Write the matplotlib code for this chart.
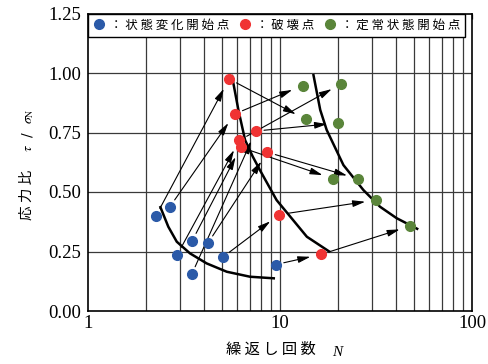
import numpy as np
import matplotlib.pyplot as plt
from matplotlib.lines import Line2D
from matplotlib.patches import FancyArrowPatch
from matplotlib.ticker import FormatStrFormatter, NullFormatter

plt.rcParams["mathtext.fontset"] = "stix"

CJK = "Noto Sans CJK JP"
SERIF = "Liberation Serif"

# one entry per specimen: onset (blue) -> failure (red) -> steady state (green)
onset_N = [2.26, 2.67, 2.92, 3.49, 3.47, 4.22, 5.03, 9.49]
onset_tau = [0.400, 0.438, 0.237, 0.295, 0.154, 0.286, 0.226, 0.195]
fail_N = [5.43, 5.81, 6.14, 6.24, 7.47, 8.59, 9.90, 16.4]
fail_tau = [0.975, 0.828, 0.717, 0.688, 0.756, 0.667, 0.405, 0.238]
steady_N = [13.6, 13.1, 20.9, 18.9, 20.1, 25.4, 31.7, 47.7]
steady_tau = [0.805, 0.947, 0.955, 0.556, 0.790, 0.556, 0.466, 0.357]

# boundary curves (hand-drawn envelopes)
onset_curve_N = [2.37, 2.62, 2.90, 3.40, 4.15, 5.28, 6.98, 9.42]
onset_curve_tau = [0.441, 0.354, 0.291, 0.242, 0.200, 0.165, 0.144, 0.137]
fail_curve_N = [5.61, 6.07, 6.58, 7.20, 7.86, 9.60, 13.8, 18.2]
fail_curve_tau = [0.992, 0.845, 0.718, 0.650, 0.592, 0.466, 0.312, 0.248]
steady_curve_N = [14.9, 16.2, 17.5, 21.4, 27.2, 33.2, 40.5, 52.5]
steady_curve_tau = [0.996, 0.845, 0.761, 0.613, 0.508, 0.438, 0.390, 0.343]

legend_labels = ["：状態変化開始点", "：破壊点", "：定常状態開始点"]
colors = ["#2b5aa8", "#f03333", "#5a853a"]

W, H = 488, 364


def spread(s):
    return " ".join(s)


fig = plt.figure(figsize=(W / 100, H / 100), dpi=100)
ax = fig.add_axes([88 / W, 1 - 311 / H, (472 - 88) / W, (311 - 13.5) / H])

ax.set_xscale("log")
ax.set_xlim(1, 100)
ax.set_ylim(0, 1.25)

# grid drawn by hand so it stays under the legend box
xgrid = [k * 10 ** d for d in (0, 1) for k in range(2, 10)] + [10]
for v in xgrid:
    ax.axvline(v, color="#3a3a3a", lw=0.9, zorder=1)
for v in [0.25, 0.5, 0.75, 1.0]:
    ax.axhline(v, color="#3a3a3a", lw=0.9, zorder=1)

for cN, ct in [(onset_curve_N, onset_curve_tau),
               (fail_curve_N, fail_curve_tau),
               (steady_curve_N, steady_curve_tau)]:
    ax.plot(cN, ct, color="black", lw=1.8, zorder=3, solid_capstyle="butt")


def arrow(x0, y0, x1, y1):
    a = FancyArrowPatch((x0, y0), (x1, y1),
                        arrowstyle="-|>,head_length=0.75,head_width=0.2",
                        mutation_scale=10, lw=0.8, color="black",
                        shrinkA=6, shrinkB=8, zorder=3)
    ax.add_patch(a)


for i in range(len(onset_N)):
    arrow(onset_N[i], onset_tau[i], fail_N[i], fail_tau[i])
    arrow(fail_N[i], fail_tau[i], steady_N[i], steady_tau[i])

for xs, ys, c in [(onset_N, onset_tau, colors[0]),
                  (fail_N, fail_tau, colors[1]),
                  (steady_N, steady_tau, colors[2])]:
    ax.plot(xs, ys, ls="none", marker="o", ms=7, mfc=c, mec=c, zorder=4)

ax.set_yticks(np.arange(0, 1.26, 0.25))
ax.yaxis.set_major_formatter(FormatStrFormatter("%.2f"))
ax.set_xticks([1, 10, 100])
ax.set_xticklabels(["1", "10", "100"])
ax.xaxis.set_minor_formatter(NullFormatter())
ax.tick_params(axis="y", length=0, pad=5, labelsize=13.5)
ax.tick_params(axis="x", which="both", bottom=False, top=True,
               direction="in", length=3.5, width=0.9, pad=3, labelsize=13.5)
for lab in ax.get_xticklabels() + ax.get_yticklabels():
    lab.set_family(SERIF)
for sp in ax.spines.values():
    sp.set_linewidth(1.2)

handles = [Line2D([], [], ls="none", marker="o", ms=7, mfc=c, mec=c)
           for c in colors]
leg = ax.legend(handles, [spread(s) for s in legend_labels],
                loc="upper left", bbox_to_anchor=(0, 1), ncol=3,
                frameon=True, fancybox=False, framealpha=1,
                edgecolor="black", borderaxespad=0, handlelength=0.9,
                handletextpad=0.45, columnspacing=0.8, borderpad=0.4,
                prop={"family": CJK, "size": 9})
leg.get_frame().set_linewidth(1.0)
leg.set_zorder(2)

fig.text(27 / W, 1 - 195 / H, spread("応力比"), rotation=90, ha="center",
         va="center", family=CJK, fontsize=10.5)
fig.text(28 / W, 1 - 130 / H, r"$\tau$  /  $\sigma_{\mathrm{N}}$",
         rotation=90, ha="center", va="center", fontsize=10)
fig.text(271 / W, 1 - 349 / H, spread("繰返し回数"), ha="center",
         va="center", family=CJK, fontsize=11)
fig.text(337 / W, 1 - 352 / H, "N", ha="center", va="center",
         family=SERIF, style="italic", fontsize=11)

fig.savefig("out.png", dpi=100)
